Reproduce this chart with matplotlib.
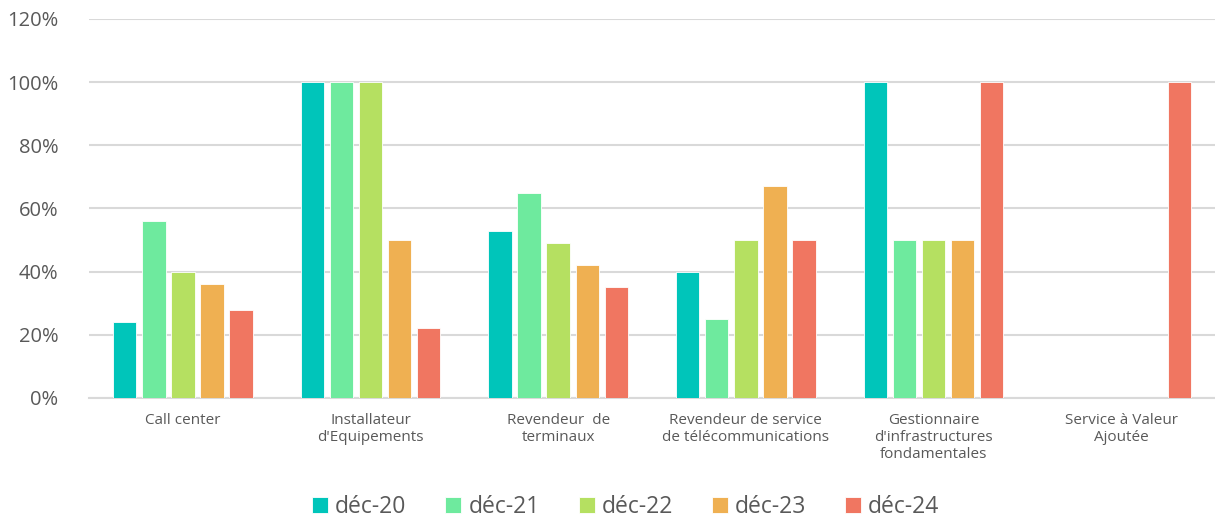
import numpy as np
import matplotlib.pyplot as plt
from matplotlib.ticker import FuncFormatter

categories = ["Call center", "Installateur\nd'Equipements", "Revendeur  de\nterminaux",
              "Revendeur de service\nde télécommunications",
              "Gestionnaire\nd'infrastructures\nfondamentales", "Service à Valeur\nAjoutée"]
series = ["déc-20", "déc-21", "déc-22", "déc-23", "déc-24"]
dec20 = [0.24, 1.00, 0.53, 0.40, 1.00, 0.0]
dec21 = [0.56, 1.00, 0.65, 0.25, 0.50, 0.0]
dec22 = [0.40, 1.00, 0.49, 0.50, 0.50, 0.0]
dec23 = [0.36, 0.50, 0.42, 0.67, 0.50, 0.0]
dec24 = [0.28, 0.22, 0.35, 0.50, 1.00, 1.00]
colors = ["#00C5BA", "#6EEA9E", "#B5E061", "#EFB052", "#F07661"]

plt.rcParams['font.family'] = ['Open Sans', 'DejaVu Sans']
grey = '#595959'

fig = plt.figure(figsize=(12.15, 5.25), dpi=100)
ax = fig.add_axes([0.0733, 0.242, 0.9267, 0.722])

x = np.arange(len(categories))
slot = 0.155
w = 0.125
for i, (vals, name) in enumerate(zip([dec20, dec21, dec22, dec23, dec24], series)):
    ax.bar(x + (i - 2) * slot, vals, width=w, color=colors[i], label=name,
           edgecolor='white', linewidth=0.6, zorder=3)

ax.set_xlim(-0.5, len(categories) - 0.5)
ax.set_ylim(0, 1.2)
ax.set_yticks(np.arange(0, 1.21, 0.2))
ax.yaxis.set_major_formatter(FuncFormatter(lambda v, p: f"{v*100:.0f}%"))
ax.grid(axis='y', color='#D9D9D9', linewidth=1.5, zorder=0)
for s in ['top', 'right', 'left']:
    ax.spines[s].set_visible(False)
ax.spines['bottom'].set_color('#D9D9D9')
ax.spines['bottom'].set_linewidth(1.5)
ax.tick_params(axis='y', length=0, pad=22, labelsize=14.5, labelcolor=grey)
ax.tick_params(axis='x', length=0, pad=11, labelsize=11, labelcolor=grey)
ax.set_xticks(x)
ax.set_xticklabels(categories, linespacing=1.15)

fig.legend(loc='center', bbox_to_anchor=(0.515, 0.035), ncol=5, frameon=False,
           fontsize=16.5, labelcolor=grey, handlelength=0.7, handleheight=0.7,
           handletextpad=0.3, columnspacing=1.7)

fig.savefig('out.png', dpi=100)
